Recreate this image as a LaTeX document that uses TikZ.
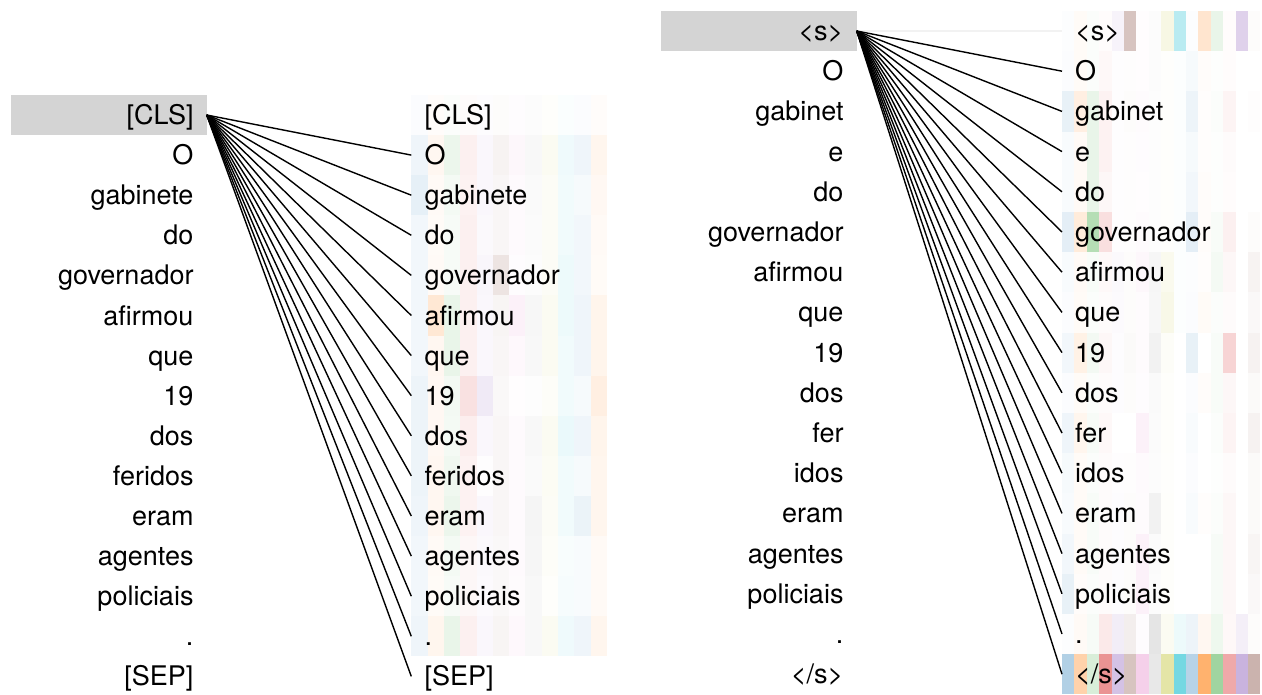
\documentclass[tikz,border=0pt]{standalone}
\usepackage{fontspec}
\setmainfont{TeX Gyre Heros}
\definecolor{hc0}{HTML}{1F77B4}
\definecolor{hc1}{HTML}{FF7F0E}
\definecolor{hc2}{HTML}{2CA02C}
\definecolor{hc3}{HTML}{D62728}
\definecolor{hc4}{HTML}{9467BD}
\definecolor{hc5}{HTML}{8C564B}
\definecolor{hc6}{HTML}{E377C2}
\definecolor{hc7}{HTML}{7F7F7F}
\definecolor{hc8}{HTML}{BCBD22}
\definecolor{hc9}{HTML}{17BECF}
\definecolor{selgray}{HTML}{D4D4D4}
\newcommand\tokfont{\fontsize{27}{32}\selectfont}
\begin{document}
\begin{tikzpicture}[x=1pt,y=-1pt,
  tokL/.style={anchor=east, text width=170pt, align=right, inner xsep=13pt, inner ysep=0pt,
    minimum height=40pt, text height=19pt, text depth=0pt, font=\tokfont},
  tokR/.style={anchor=west, inner xsep=13pt, inner ysep=0pt,
    minimum height=40pt, text height=19pt, text depth=0pt, font=\tokfont},
  sel/.style={fill=selgray},
  conn/.style={line width=1.4pt, black},
  faint/.style={line width=2pt, black!5}]
\useasboundingbox (0,0) rectangle (1262,694);
% ---------- left heatmap ----------
\foreach \v [count=\c from 0] in {.02,.02,.02,.02,.02,.02,.02,.02,.02,.02,.02,.02}{
  \pgfmathtruncatemacro\ci{mod(\c,10)}
  \fill[hc\ci, fill opacity=\v] (411.3+\c*16.3,95) rectangle ++(16.3,40);}
\foreach \row [count=\r from 0] in {
 {.07,.06,.09,.07,.05,.07,.06,.05,.06,.07,.07,.07},
 {.11,.04,.05,.06,.05,.05,.04,.04,.04,.06,.04,.05},
 {.06,.03,.04,.07,.04,.05,.04,.03,.04,.06,.06,.04},
 {.06,.04,.04,.07,.06,.16,.02,.02,.04,.08,.06,.03},
 {.06,.18,.10,.07,.05,.06,.10,.06,.06,.08,.07,.08},
 {.06,.06,.10,.07,.05,.05,.05,.05,.06,.06,.07,.08},
 {.08,.05,.06,.14,.14,.04,.01,.01,.03,.06,.04,.12},
 {.08,.05,.05,.08,.05,.05,.04,.05,.06,.09,.07,.08},
 {.08,.06,.07,.06,.01,.05,.04,.04,.05,.06,.04,.07},
 {.07,.06,.09,.06,.05,.05,.04,.08,.04,.06,.09,.07},
 {.06,.04,.05,.04,.04,.04,.04,.07,.03,.03,.03,.04},
 {.06,.03,.04,.04,.03,.04,.03,.05,.02,.04,.03,.04},
 {.07,.07,.10,.07,.05,.06,.05,.05,.06,.07,.07,.07}}{
  \foreach \v [count=\c from 0] in \row {
    \pgfmathtruncatemacro\ci{mod(\c,10)}
    \fill[hc\ci, fill opacity=\v] (411.3+\c*16.3,135+\r*40.1) rectangle ++(16.3,40.1);}}
% ---------- right heatmap ----------
\foreach \row [count=\r from 0] in {
 {.01,.03,.02,.01,.08,.35,.01,.02,.12,.30,.01,.20,.10,.01,.30,.02},
 {.02,.03,.02,.03,.01,.01,.01,.02,.01,.01,.04,.02,.01,.01,.00,.00},
 {.10,.12,.10,.06,.01,.02,.03,.01,.01,.01,.08,.01,.02,.05,.00,.01},
 {.03,.04,.10,.06,.01,.01,.02,.01,.01,.01,.04,.01,.01,.02,.00,.00},
 {.03,.04,.10,.04,.01,.01,.01,.01,.01,.01,.06,.02,.01,.01,.00,.00},
 {.12,.15,.35,.15,.01,.01,.03,.01,.01,.01,.12,.02,.03,.07,.00,.02},
 {.03,.04,.03,.03,.04,.02,.06,.07,.08,.01,.01,.01,.05,.04,.00,.07},
 {.02,.03,.02,.02,.03,.02,.03,.06,.10,.01,.02,.03,.02,.02,.00,.04},
 {.06,.10,.06,.04,.02,.03,.03,.10,.03,.00,.10,.00,.03,.20,.00,.08},
 {.02,.03,.02,.02,.02,.02,.02,.04,.02,.00,.02,.02,.03,.04,.00,.03},
 {.07,.07,.04,.03,.00,.00,.10,.03,.02,.00,.03,.00,.02,.05,.00,.08},
 {.04,.03,.02,.02,.01,.01,.04,.02,.01,.00,.02,.00,.01,.02,.00,.03},
 {.03,.03,.03,.02,.02,.02,.03,.10,.02,.00,.03,.01,.02,.04,.00,.03},
 {.06,.03,.03,.02,.02,.02,.10,.03,.02,.00,.00,.00,.04,.04,.00,.06},
 {.10,.02,.02,.02,.02,.02,.10,.02,.02,.00,.00,.00,.04,.04,.00,.04},
 {.01,.04,.04,.10,.12,.10,.02,.20,.06,.08,.08,.06,.08,.03,.10,.02},
 {.35,.35,.18,.50,.40,.35,.35,.18,.40,.60,.32,.60,.45,.40,.50,.45}}{
  \foreach \v [count=\c from 0] in \row {
    \pgfmathtruncatemacro\ci{mod(\c,10)}
    \fill[hc\ci, fill opacity=\v] (1062+\c*12.4,11+\r*40.2) rectangle ++(12.4,40.2);}}
% ---------- left panel tokens ----------
\foreach \t [count=\k from 0] in {[CLS],O,gabinete,do,governador,afirmou,que,19,dos,feridos,eram,agentes,policiais,.,[SEP]}{
  \ifnum\k=0
    \node[tokL,sel] (l\k) at (206.7,115) {\t};
  \else
    \node[tokL] (l\k) at (206.7,115+\k*40.1) {\t};
  \fi
  \node[tokR] (m\k) at (411.3,115+\k*40.1) {\t};}
% ---------- right panel tokens ----------
\foreach \t [count=\k from 0] in {<s>,O,gabinet,e,do,governador,afirmou,que,19,dos,fer,idos,eram,agentes,policiais,.,</s>}{
  \ifnum\k=0
    \node[tokL,sel] (a\k) at (856.7,31) {\t};
  \else
    \node[tokL] (a\k) at (856.7,31+\k*40.2) {\t};
  \fi
  \node[tokR] (b\k) at (1062,31+\k*40.2) {\t};}
% ---------- connectors ----------
\draw[faint] (a0.east) -- (b0.west);
\foreach \k in {1,...,14}{\draw[conn] (l0.east) -- (m\k.west);}
\foreach \k in {1,...,16}{\draw[conn] (a0.east) -- (b\k.west);}
\end{tikzpicture}
\end{document}
